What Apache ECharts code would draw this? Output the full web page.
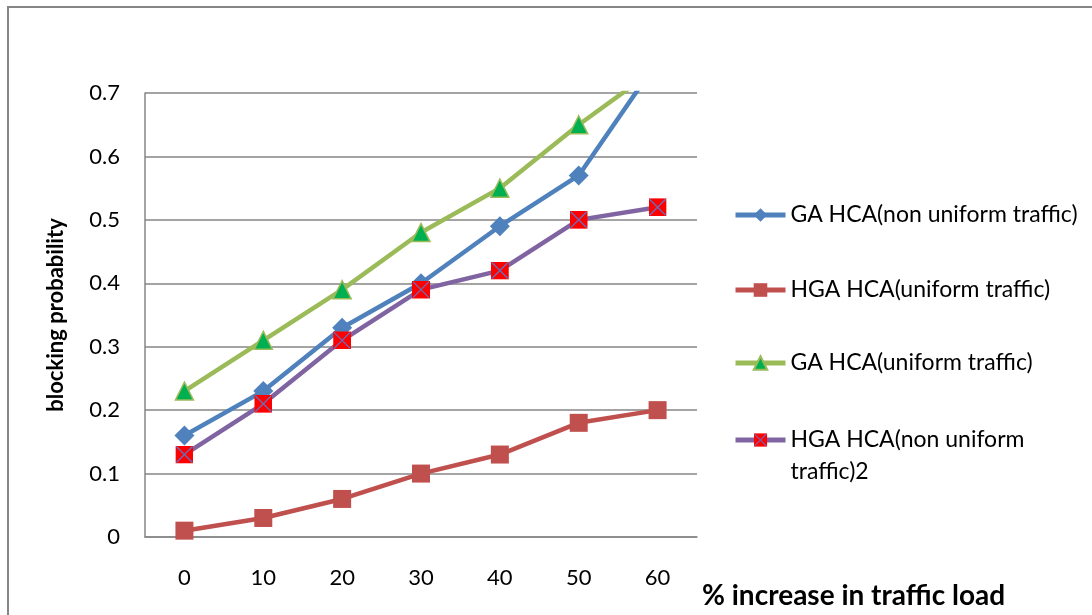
<!DOCTYPE html>
<html><head><meta charset="utf-8">
<script src="https://cdn.jsdelivr.net/npm/echarts@6/dist/echarts.min.js"></script>
<style>html,body{margin:0;padding:0;background:#fff}#c{width:1092px;height:615px}</style>
</head><body><div id="c"></div>
<script>
const categories = ['0','10','20','30','40','50','60'];
const gaNonUniform = [0.16, 0.23, 0.33, 0.40, 0.49, 0.57, 0.75];
const hgaUniform = [0.01, 0.03, 0.06, 0.10, 0.13, 0.18, 0.20];
const gaUniform = [0.23, 0.31, 0.39, 0.48, 0.55, 0.65, 0.74];
const hgaNonUniform = [0.13, 0.21, 0.31, 0.39, 0.42, 0.50, 0.52];
const seriesNames = ['GA HCA(non uniform traffic)','HGA HCA(uniform traffic)','GA HCA(uniform traffic)','HGA HCA(non uniform traffic)2'];
const xAxisTitle = '% increase in traffic load';
const yAxisTitle = 'blocking probability';

const xSvg = 'image://data:image/svg+xml;utf8,' + encodeURIComponent('<svg xmlns="http://www.w3.org/2000/svg" width="18" height="18" viewBox="0 0 18 18"><rect x="0" y="0" width="18" height="18" fill="#FF0000"/><line x1="1" y1="1" x2="17" y2="17" stroke="#6F6BB5" stroke-width="1.4"/><line x1="17" y1="1" x2="1" y2="17" stroke="#6F6BB5" stroke-width="1.4"/></svg>');

const FONT = 'Lato, "Open Sans", sans-serif';
const LEG_TEXT = {fontFamily:FONT, fontSize:23, color:'#000', lineHeight:32};
const chart = echarts.init(document.getElementById('c'));
function legendAt(name, top, extra){
  return Object.assign({
    orient:'vertical', left:733, top: top, itemWidth:50, itemHeight:17, itemGap:0, padding:0,
    data:[name], lineStyle:{width:5},
    textStyle:LEG_TEXT, selectedMode:false
  }, extra||{});
}
chart.setOption({
  backgroundColor:'#fff',
  animation:false,
  graphic:[
    {type:'rect', shape:{x:8,y:7,width:1200,height:800}, style:{fill:'none', stroke:'#868686', lineWidth:2}, silent:true},
    {type:'text', left:702, top:582, style:{text:xAxisTitle, fill:'#000', font:'bold 28px ' + FONT}, silent:true}
  ],
  legend:[
    legendAt(seriesNames[0], 199),
    legendAt(seriesNames[1], 274),
    legendAt(seriesNames[2], 347),
    legendAt(seriesNames[3], 392, {formatter: function(n){return ' \nHGA HCA(non uniform\ntraffic)2';}})
  ],
  grid:{left:145, right:395, top:93, bottom:78},
  xAxis:{type:'category', data:categories, boundaryGap:true,
    axisLine:{lineStyle:{color:'#868686', width:1.5}}, axisTick:{show:false},
    axisLabel:{color:'#000', fontSize:22, fontFamily:FONT, margin:30}
  },
  yAxis:{type:'value', min:0, max:0.7, interval:0.1,
    axisLine:{show:true, lineStyle:{color:'#868686', width:1.5}}, axisTick:{show:false},
    splitLine:{lineStyle:{color:'#868686', width:1.5}},
    axisLabel:{color:'#000', fontSize:22, fontFamily:FONT, margin:25},
    name:yAxisTitle, nameLocation:'middle', nameGap:78, nameRotate:90,
    nameTextStyle:{color:'#000', fontSize:22, fontWeight:'bold', fontFamily:FONT}
  },
  series:[
    {name:seriesNames[0], type:'line', data:gaNonUniform, clip:true, symbol:'diamond', symbolSize:20,
      lineStyle:{color:'#4F81BD', width:4.5}, itemStyle:{color:'#4F81BD'}},
    {name:seriesNames[1], type:'line', data:hgaUniform, clip:true, symbol:'rect', symbolSize:18,
      lineStyle:{color:'#C0504D', width:4.5}, itemStyle:{color:'#C0504D'}},
    {name:seriesNames[2], type:'line', data:gaUniform, clip:true, symbol:'triangle', symbolSize:18,
      lineStyle:{color:'#9BBB59', width:4.5}, itemStyle:{color:'#00B050', borderColor:'#9BBB59', borderWidth:1.5}},
    {name:seriesNames[3], type:'line', data:hgaNonUniform, clip:true, symbol:xSvg, symbolSize:18,
      lineStyle:{color:'#8064A2', width:4.5}, itemStyle:{color:'#8064A2'}}
  ]
});
</script></body></html>
